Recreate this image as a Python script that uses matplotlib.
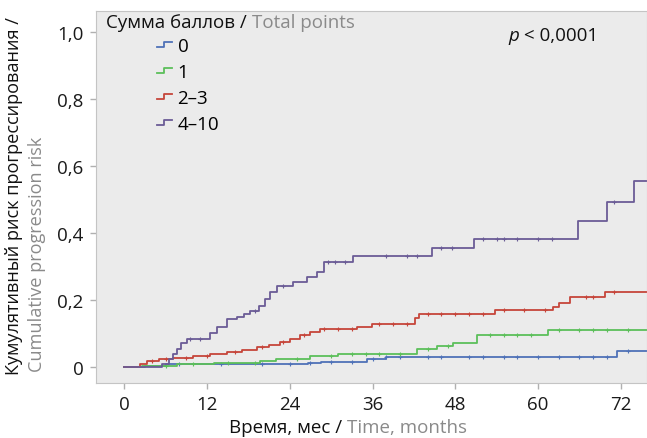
import numpy as np
import matplotlib
matplotlib.use("Agg")
import matplotlib.pyplot as plt
from matplotlib.lines import Line2D
from matplotlib.legend_handler import HandlerBase

plt.rcParams["font.family"] = ["Open Sans", "DejaVu Sans"]

# step points of the cumulative risk curves (month, risk)
months_0 = [0, 3.0, 6.0, 26.6, 28.5, 35.2, 38.0, 71.4]
risk_0 = [0, 0.004, 0.008, 0.012, 0.016, 0.024, 0.029, 0.049]

months_1 = [0, 2.5, 7.6, 13.0, 19.7, 22.0, 27.0, 31.0, 42.4, 45.3, 47.7, 51.1, 61.5]
risk_1 = [0, 0.004, 0.008, 0.013, 0.018, 0.025, 0.034, 0.039, 0.054, 0.063, 0.072, 0.094, 0.111]

months_2_3 = [0, 2.3, 3.3, 5.0, 7.0, 10.0, 12.5, 14.9, 17.0, 19.2, 21.0, 22.6, 24.1,
              25.5, 27.0, 28.4, 33.8, 35.9, 42.2, 42.7, 53.8, 62.2, 63.0, 64.6, 69.7]
risk_2_3 = [0, 0.008, 0.019, 0.024, 0.028, 0.034, 0.039, 0.044, 0.050, 0.059, 0.066, 0.074, 0.082,
            0.094, 0.104, 0.113, 0.118, 0.128, 0.145, 0.158, 0.170, 0.180, 0.192, 0.208, 0.223]

months_4_10 = [0, 5.5, 6.5, 7.0, 7.6, 8.2, 9.1, 12.4, 13.4, 14.9, 16.3, 17.3, 18.3, 19.5,
               20.4, 21.2, 22.1, 24.5, 26.5, 27.9, 28.9, 33.2, 44.6, 50.7, 65.8, 70.0, 73.9]
risk_4_10 = [0, 0.01, 0.025, 0.04, 0.055, 0.07, 0.084, 0.10, 0.118, 0.143, 0.148, 0.158, 0.168, 0.183,
             0.203, 0.223, 0.243, 0.253, 0.268, 0.283, 0.312, 0.332, 0.354, 0.381, 0.436, 0.492, 0.556]

# censored observations (months)
cens_0 = [8, 14, 20, 24, 27, 30, 33, 36, 38, 40, 44, 46, 50, 52, 55, 57, 60, 63, 66, 68, 70, 73]
cens_1 = [6, 10, 15, 19, 25, 30, 33, 35, 37, 40, 44, 47, 53, 55, 57, 59, 63, 66, 68, 70, 73]
cens_2_3 = [4, 6, 9, 12, 16, 20, 23, 26, 29, 31, 33, 37, 39, 41, 44, 46, 48, 50, 52, 55, 58, 61, 67, 68, 71]
cens_4_10 = [9.5, 11, 19, 23, 29.5, 30.5, 32, 38, 41, 42.5, 46, 47.5, 52, 54, 55, 57, 60, 62, 71]

group_labels = ["0", "1", "2–3", "4–10"]
follow_up_end = 80

x_ticks = [0, 12, 24, 36, 48, 60, 72]
y_ticks = [0, 0.2, 0.4, 0.6, 0.8, 1.0]
y_tick_labels = ["0", "0,2", "0,4", "0,6", "0,8", "1,0"]

colors = ["#4f72b8", "#5cbf5a", "#c6453a", "#6b5c96"]
GREY = "#8a8a8a"
BLACK = "#111111"
FS = 13.5


class StepHandler(HandlerBase):
    def create_artists(self, legend, orig_handle, xdescent, ydescent, width, height, fontsize, trans):
        xs = np.array([0.0, 0.5, 0.5, 1.0]) * width - xdescent
        ys = np.array([0.3, 0.3, 0.7, 0.7]) * height - ydescent
        return [Line2D(xs, ys, color=orig_handle.get_color(), lw=1.3, transform=trans)]


fig = plt.figure(figsize=(6.47, 4.39), dpi=100)
ax = fig.add_axes([96 / 647, 55 / 439, 551 / 647, 372 / 439])
ax.set_facecolor("#ebebeb")

series = [(months_0, risk_0, cens_0), (months_1, risk_1, cens_1),
          (months_2_3, risk_2_3, cens_2_3), (months_4_10, risk_4_10, cens_4_10)]
handles = []
for (m, r, c), col, lab in zip(series, colors, group_labels):
    m = np.array(m + [follow_up_end])
    r = np.array(r + [r[-1]])
    ln, = ax.plot(m, r, drawstyle="steps-post", color=col, lw=1.3, label=lab)
    c = np.array(c)
    cy = r[np.searchsorted(m, c, side="right") - 1]
    ax.plot(c, cy, ls="none", marker="+", ms=3.5, mew=0.8, color=col)
    handles.append(ln)

ax.set_xlim(-4.1, 75.8)
ax.set_ylim(-0.048, 1.063)
ax.set_xticks(x_ticks)
ax.set_xticklabels([str(t) for t in x_ticks])
ax.set_yticks(y_ticks)
ax.set_yticklabels(y_tick_labels)
ax.tick_params(direction="out", length=4, width=1, color="#b0b0b0", labelsize=FS,
               labelcolor="#1a1a1a", pad=5)
for s in ax.spines.values():
    s.set_color("#c4c4c4")

leg = ax.legend(handles=handles, labels=group_labels, loc="upper left",
                bbox_to_anchor=(0.08, 0.975), frameon=False, fontsize=FS,
                handlelength=0.8, handletextpad=0.3, labelspacing=0.42,
                handler_map={Line2D: StepHandler()})

# legend title in two colours
t1 = ax.text(0.018, 0.995, "Сумма баллов / ", transform=ax.transAxes, fontsize=FS,
             ha="left", va="top", color=BLACK)
ax.annotate("Total points", xy=(1, 0), xycoords=t1, va="bottom", fontsize=FS, color=GREY)

# p-value
tp = ax.text(0.748, 0.935, "p", transform=ax.transAxes, fontsize=FS, style="italic",
             ha="left", va="center", color=BLACK)
ax.annotate(" < 0,0001", xy=(1, 0), xycoords=tp, va="bottom", fontsize=FS, color=BLACK)

# axis labels
fig.text(14 / 647, 1 - 375 / 439, "Кумулятивный риск прогрессирования /", rotation=90,
         ha="center", va="bottom", fontsize=13.1, color=BLACK)
fig.text(37 / 647, 1 - 372 / 439, "Cumulative progression risk", rotation=90,
         ha="center", va="bottom", fontsize=13.1, color=GREY)
tx = fig.text(229 / 647, 1 - 428 / 439, "Время, мес / ", ha="left", va="center",
              fontsize=FS, color=BLACK)
ax.annotate("Time, months", xy=(1, 0), xycoords=tx, va="bottom", fontsize=FS, color=GREY)

fig.savefig("out.png", dpi=100)
